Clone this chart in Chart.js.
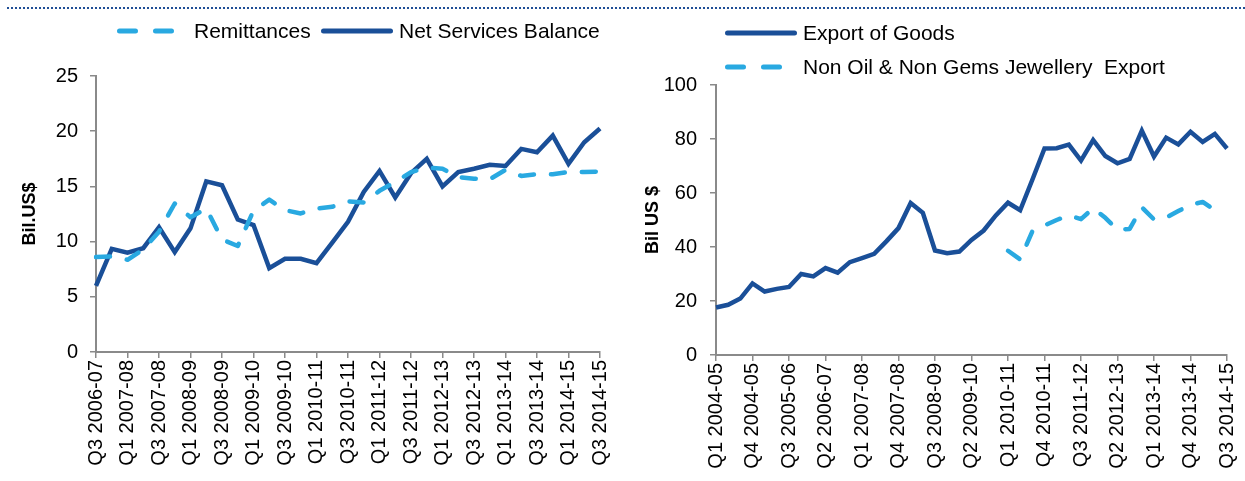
<!DOCTYPE html>
<html>
<head>
<meta charset="utf-8">
<script src="https://cdn.jsdelivr.net/npm/chart.js@4.4.1/dist/chart.umd.min.js"></script>
<style>
  html, body { margin:0; padding:0; background:#fff; }
  #wrap { position:relative; width:1245px; height:481px; overflow:hidden; background:#fff;
          font-family:'Liberation Sans', Arial, sans-serif; }
  .dots { position:absolute; left:7px; top:7px; width:1238px; height:0; border-top:2px dotted #1F4E96; }
  canvas { position:absolute; top:0; }
  .lg { position:absolute; font-size:21px; line-height:24px; color:#000; white-space:pre; }
  svg.ls { position:absolute; left:0; top:0; }
</style>
</head>
<body>
<div id="wrap">
  <div class="dots"></div>
  <canvas id="c1" width="620" height="481" style="left:0px"></canvas>
  <canvas id="c2" width="625" height="481" style="left:620px"></canvas>
  <svg class="ls" width="1245" height="100">
    <line x1="119.5" y1="31" x2="171.5" y2="31" stroke="#29A9E1" stroke-width="5" stroke-linecap="round" stroke-dasharray="16 20"/>
    <line x1="323.5" y1="31" x2="390.5" y2="31" stroke="#1A4F98" stroke-width="5" stroke-linecap="round"/>
    <line x1="727.5" y1="33" x2="794.5" y2="33" stroke="#1A4F98" stroke-width="5" stroke-linecap="round"/>
    <line x1="727.5" y1="67" x2="780.5" y2="67" stroke="#29A9E1" stroke-width="5" stroke-linecap="round" stroke-dasharray="16 20"/>
  </svg>
  <div class="lg" style="left:194px; top:19px;">Remittances</div>
  <div class="lg" style="left:399px; top:19px;">Net Services Balance</div>
  <div class="lg" style="left:803px; top:21px;">Export of Goods</div>
  <div class="lg" style="left:803px; top:55px;">Non Oil &amp; Non Gems Jewellery  Export</div>
</div>
<script>
// ---------- Left chart data ----------
const leftCategories = [
  "Q3 2006-07","Q4 2006-07","Q1 2007-08","Q2 2007-08","Q3 2007-08","Q4 2007-08",
  "Q1 2008-09","Q2 2008-09","Q3 2008-09","Q4 2008-09","Q1 2009-10","Q2 2009-10",
  "Q3 2009-10","Q4 2009-10","Q1 2010-11","Q2 2010-11","Q3 2010-11","Q4 2010-11",
  "Q1 2011-12","Q2 2011-12","Q3 2011-12","Q4 2011-12","Q1 2012-13","Q2 2012-13",
  "Q3 2012-13","Q4 2012-13","Q1 2013-14","Q2 2013-14","Q3 2013-14","Q4 2013-14",
  "Q1 2014-15","Q2 2014-15","Q3 2014-15"
];
const remittances = [
  8.6, 8.65, 8.35, 9.3, 10.9, 13.45, 12.2, 13.0, 10.2, 9.6, 12.8,
  13.8, 12.85, 12.55, 13.0, 13.15, 13.65, 13.55, 14.6, 15.4, 16.3, 16.7,
  16.6, 15.85, 15.7, 15.65, 16.5, 15.95, 16.1, 16.1, 16.3, 16.3, 16.35
];
const netServicesBalance = [
  6.0, 9.35, 9.0, 9.4, 11.3, 9.05, 11.2, 15.45, 15.1, 12.0, 11.5,
  7.6, 8.45, 8.45, 8.05, 9.9, 11.8, 14.5, 16.4, 14.0, 16.2, 17.5,
  15.0, 16.3, 16.6, 16.95, 16.85, 18.4, 18.1, 19.6, 17.05, 19.0, 20.25
];
const leftYTicks = [0, 5, 10, 15, 20, 25];

// ---------- Right chart data ----------
const rightCategories = [
  "Q1 2004-05","Q2 2004-05","Q3 2004-05","Q4 2004-05",
  "Q1 2005-06","Q2 2005-06","Q3 2005-06","Q4 2005-06",
  "Q1 2006-07","Q2 2006-07","Q3 2006-07","Q4 2006-07",
  "Q1 2007-08","Q2 2007-08","Q3 2007-08","Q4 2007-08",
  "Q1 2008-09","Q2 2008-09","Q3 2008-09","Q4 2008-09",
  "Q1 2009-10","Q2 2009-10","Q3 2009-10","Q4 2009-10",
  "Q1 2010-11","Q2 2010-11","Q3 2010-11","Q4 2010-11",
  "Q1 2011-12","Q2 2011-12","Q3 2011-12","Q4 2011-12",
  "Q1 2012-13","Q2 2012-13","Q3 2012-13","Q4 2012-13",
  "Q1 2013-14","Q2 2013-14","Q3 2013-14","Q4 2013-14",
  "Q1 2014-15","Q2 2014-15","Q3 2014-15"
];
const exportOfGoods = [
  17.6, 18.6, 20.9, 26.5, 23.5, 24.5, 25.2, 30.0, 29.1, 32.2, 30.5,
  34.4, 35.9, 37.5, 42.1, 47.0, 56.3, 52.7, 38.7, 37.7, 38.3, 42.6,
  46.1, 51.7, 56.4, 53.6, 64.9, 76.5, 76.6, 77.9, 72.0, 79.6, 73.7,
  71.0, 72.6, 83.1, 73.5, 80.5, 78.0, 82.7, 78.9, 81.9, 76.5
];
const nonOilNonGemsExport = [
  null, null, null, null, null, null, null, null, null, null, null,
  null, null, null, null, null, null, null, null, null, null, null,
  null, null, 38.6, 35.4, 45.8, 48.0, 50.0, 51.7, 50.3, 54.4, 50.8,
  46.4, 46.7, 54.7, 50.2, 50.9, 53.3, 55.6, 56.7, 53.7, null
];
const rightYTicks = [0, 20, 40, 60, 80, 100];

// ---------- Styling ----------
const DARK = '#1A4F98';
const LIGHT = '#29A9E1';
const AXIS = '#8A8A8A';
Chart.defaults.font.family = "'Liberation Sans', Arial, sans-serif";
Chart.defaults.color = '#000';

function makeChart(el, cfg) {
  const every = cfg.every;
  return new Chart(el, {
    type: 'line',
    data: { labels: cfg.labels, datasets: cfg.datasets },
    options: {
      responsive: false,
      animation: false,
      layout: { padding: cfg.padding },
      plugins: { legend: { display: false }, tooltip: { enabled: false } },
      elements: { point: { radius: 0 }, line: { tension: 0 } },
      scales: {
        x: {
          offset: false,
          grid: {
            display: true, drawOnChartArea: false, drawTicks: true, tickLength: 6,
            lineWidth: 1.5,
            color: (c) => (c.index % every === 0 ? AXIS : 'rgba(0,0,0,0)')
          },
          border: { display: true, color: AXIS, width: 2 },
          ticks: {
            autoSkip: false, maxRotation: 90, minRotation: 90, padding: 2,
            font: { size: 20 }, color: '#000',
            callback: (v, i) => (i % every === 0 ? cfg.labels[i] : '')
          },
          afterFit: (s) => { s.height = cfg.xHeight; s.paddingLeft = 0; s.paddingRight = 0; }
        },
        y: {
          min: cfg.yTicks[0], max: cfg.yTicks[cfg.yTicks.length - 1],
          afterBuildTicks: (s) => { s.ticks = cfg.yTicks.map(v => ({ value: v })); },
          ticks: { padding: cfg.yPad, font: { size: 20 }, color: '#000' },
          grid: { drawOnChartArea: false, tickLength: 6, color: AXIS, lineWidth: 1.5 },
          border: { display: true, color: AXIS, width: 2 },
          title: { display: true, text: cfg.yTitle, color: '#000',
                   font: { size: 18, weight: 'bold' }, padding: { top: cfg.titlePad, bottom: 0 } },
          afterFit: (s) => { s.width = cfg.yWidth; }
        }
      }
    }
  });
}

makeChart(document.getElementById('c1'), {
  labels: leftCategories,
  every: 2,
  yTicks: leftYTicks,
  yTitle: 'Bil.US$',
  titlePad: 19,
  yPad: 12,
  yWidth: 96,
  xHeight: 129,
  padding: { left: 0, right: 20, top: 76, bottom: 0 },
  datasets: [
    { label: 'Remittances', data: remittances, borderColor: LIGHT, borderWidth: 4.5,
      borderDash: [14, 17], borderCapStyle: 'round', borderJoinStyle: 'round', fill: false },
    { label: 'Net Services Balance', data: netServicesBalance, borderColor: DARK, borderWidth: 4.5,
      borderJoinStyle: 'miter', fill: false }
  ]
});

makeChart(document.getElementById('c2'), {
  labels: rightCategories,
  every: 3,
  yTicks: rightYTicks,
  yTitle: 'Bil US $',
  titlePad: 22,
  yPad: 13,
  yWidth: 96,
  xHeight: 126,
  padding: { left: 0, right: 18, top: 85, bottom: 0 },
  datasets: [
    { label: 'Export of Goods', data: exportOfGoods, borderColor: DARK, borderWidth: 4.5,
      borderJoinStyle: 'miter', fill: false },
    { label: 'Non Oil & Non Gems Jewellery  Export', data: nonOilNonGemsExport, borderColor: LIGHT,
      borderWidth: 4.5, borderDash: [14, 17], borderCapStyle: 'round', borderJoinStyle: 'round',
      fill: false, spanGaps: false }
  ]
});
</script>
</body>
</html>
